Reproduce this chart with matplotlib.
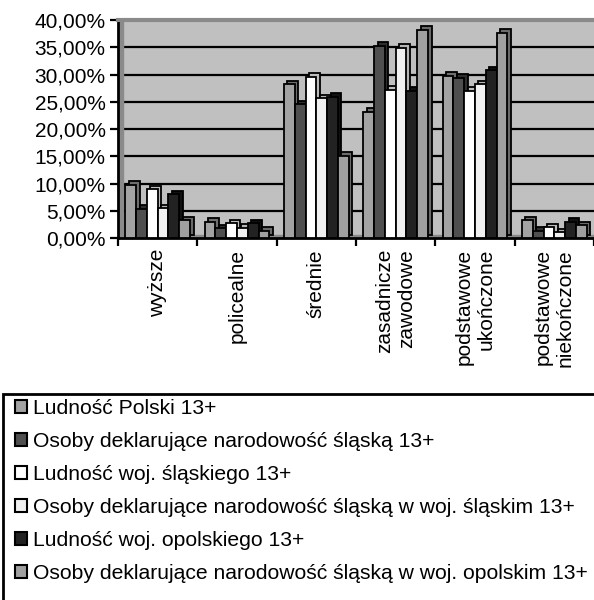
"""Education level shares, Poland vs. Silesian nationality (Excel-style 3D column look)."""
import matplotlib

matplotlib.use("Agg")

import matplotlib.pyplot as plt
import matplotlib.transforms as mtransforms
import numpy as np
from matplotlib.patches import Patch, Rectangle
from matplotlib.ticker import FixedLocator, FuncFormatter, MultipleLocator

plt.rcParams["font.family"] = ["Liberation Sans", "DejaVu Sans"]

categories = [
    "wyższe",
    "policealne",
    "średnie",
    "zasadnicze\nzawodowe",
    "podstawowe\nukończone",
    "podstawowe\nniekończone",
]

series_names = [
    "Ludność Polski 13+",
    "Osoby deklarujące narodowość śląską 13+",
    "Ludność woj. śląskiego 13+",
    "Osoby deklarujące narodowość śląską w woj. śląskim 13+",
    "Ludność woj. opolskiego 13+",
    "Osoby deklarujące narodowość śląską w woj. opolskim 13+",
]

polska = [9.8, 3.0, 28.2, 23.2, 29.8, 3.3]
slazacy = [5.4, 1.8, 24.5, 35.3, 29.4, 1.3]
woj_slaskie = [8.9, 2.7, 29.6, 27.2, 27.0, 2.0]
slazacy_slaskie = [5.5, 1.9, 25.6, 34.9, 28.2, 1.1]
woj_opolskie = [8.0, 2.7, 25.9, 27.0, 30.8, 3.0]
slazacy_opolskie = [3.3, 1.3, 15.1, 38.2, 37.7, 2.3]

values = [polska, slazacy, woj_slaskie, slazacy_slaskie, woj_opolskie, slazacy_opolskie]
colors = ["#a3a3a3", "#4f4f4f", "#ffffff", "#f0f0f0", "#222222", "#a0a0a0"]
depth_colors = ["#6e6e6e", "#2e2e2e", "#bdbdbd", "#b5b5b5", "#111111", "#6a6a6a"]

fig = plt.figure(figsize=(5.94, 6.0), dpi=100)
ax = fig.add_axes([118 / 594, 1 - 238 / 600, 476 / 594, 218 / 600])
ax.set_facecolor("#c0c0c0")

x = np.arange(len(categories))
n = len(values)
width = 0.136
offsets = (np.arange(n) - (n - 1) / 2) * width

# 3D depth: same bars drawn again, shifted a few pixels right/up
depth = mtransforms.offset_copy(ax.transData, fig=fig, x=3.5, y=3.5, units="dots")
for vals, off, dc in zip(values, offsets, depth_colors):
    ax.bar(x + off, vals, width, color=dc, edgecolor="black", linewidth=1.3,
           transform=depth, zorder=3)
for vals, off, c in zip(values, offsets, colors):
    ax.bar(x + off, vals, width, color=c, edgecolor="black", linewidth=1.3, zorder=4)

ax.set_xlim(-0.5, len(categories) - 0.5)
ax.set_ylim(0, 40)
ax.yaxis.set_major_locator(MultipleLocator(5))
ax.yaxis.set_major_formatter(FuncFormatter(lambda v, _: f"{v:.2f}%".replace(".", ",")))
ax.yaxis.grid(True, color="black", linewidth=1.6)
ax.set_axisbelow(True)

ax.set_xticks(x)
ax.set_xticklabels(categories, rotation=90, va="top", ha="center", multialignment="right")
ax.xaxis.set_minor_locator(FixedLocator(np.arange(len(categories) + 1) - 0.5))
ax.tick_params(axis="x", which="major", length=0, pad=8, labelsize=15)
ax.tick_params(axis="x", which="minor", length=6, width=1.6, direction="out")
ax.tick_params(axis="y", length=6, width=1.6, direction="out", pad=3, labelsize=15)

# wall edges of the 3D frame
ax.add_patch(Rectangle((0, 0), 0.011, 1, transform=ax.transAxes, color="#8a8a8a", zorder=1))
ax.add_patch(Rectangle((0, 0), 1, 0.014, transform=ax.transAxes, color="#8a8a8a", zorder=1))
ax.spines["top"].set_color("#8a8a8a")
ax.spines["top"].set_linewidth(3)
ax.spines["right"].set_visible(False)
ax.spines["left"].set_linewidth(2)
ax.spines["bottom"].set_linewidth(2)

# legend box runs off the right and bottom edges, like the source
fig.add_artist(Rectangle((3 / 594, -0.05), 1.0, 1 - 394 / 600 + 0.05,
                         transform=fig.transFigure, facecolor="none",
                         edgecolor="black", linewidth=2))
handles = [Patch(facecolor=c, edgecolor="black", linewidth=1.5) for c in colors]
fig.legend(handles, series_names, loc="upper left",
           bbox_to_anchor=(15 / 594, 1 - 399 / 600),
           fontsize=15.2, frameon=False, handlelength=0.57,
           handleheight=0.57, handletextpad=0.28, labelspacing=0.665,
           borderpad=0, borderaxespad=0, ncol=1)

fig.savefig("out.png", dpi=100)
